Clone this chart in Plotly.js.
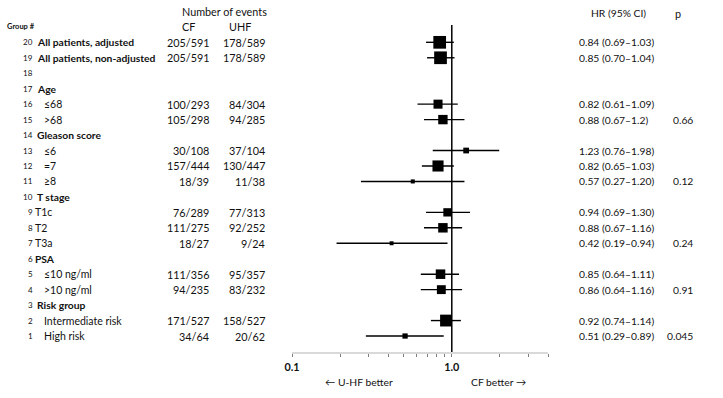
<!DOCTYPE html>
<html>
<head>
<meta charset="utf-8">
<script src="https://cdn.plot.ly/plotly-3.0.1.min.js"></script>
<style>html,body{margin:0;padding:0;background:#fff;}#chart{width:723px;height:398px;}</style>
</head>
<body>
<div id="chart"></div>
<script>
// ---------------- DATA ----------------
const groupNums = [20,19,18,17,16,15,14,13,12,11,10,9,8,7,6,5,4,3,2,1];
const rowLabels = ["All patients, adjusted","All patients, non-adjusted","","Age","≤68",">68",
  "Gleason score","≤6","=7","≥8","T stage","T1c","T2","T3a","PSA","≤10 ng/ml",">10 ng/ml",
  "Risk group","Intermediate risk","High risk"];
const isHeader = [true,true,false,true,false,false,true,false,false,false,true,false,false,false,true,false,false,true,false,false];
const cfEvents = ["205/591","205/591","","","100/293","105/298","","30/108","157/444","18/39","","76/289","111/275","18/27","","111/356","94/235","","171/527","34/64"];
const uhfEvents = ["178/589","178/589","","","84/304","94/285","","37/104","130/447","11/38","","77/313","92/252","9/24","","95/357","83/232","","158/527","20/62"];
const hr = [0.84,0.85,null,null,0.82,0.88,null,1.23,0.82,0.57,null,0.94,0.88,0.42,null,0.85,0.86,null,0.92,0.51];
const ciLow = [0.69,0.70,null,null,0.61,0.67,null,0.76,0.65,0.27,null,0.69,0.67,0.19,null,0.64,0.64,null,0.74,0.29];
const ciHigh = [1.03,1.04,null,null,1.09,1.2,null,1.98,1.03,1.20,null,1.30,1.16,0.94,null,1.11,1.16,null,1.14,0.89];
const hrText = ["0.84 (0.69–1.03)","0.85 (0.70–1.04)","","","0.82 (0.61–1.09)","0.88 (0.67–1.2)","",
  "1.23 (0.76–1.98)","0.82 (0.65–1.03)","0.57 (0.27–1.20)","","0.94 (0.69–1.30)","0.88 (0.67–1.16)",
  "0.42 (0.19–0.94)","","0.85 (0.64–1.11)","0.86 (0.64–1.16)","","0.92 (0.74–1.14)","0.51 (0.29–0.89)"];
const pValues = ["","","","","","0.66","","","","0.12","","","","0.24","","","0.91","","","0.045"];
const tickVals = [0.1,0.2,0.3,0.4,0.5,0.6,0.7,0.8,0.9,1,2,3,4];
const tickLabels = ["0.1","","","","","","","","","1.0","","",""];

// ---------------- LAYOUT CONSTANTS ----------------
const W = 723, H = 398;
const M = {l: 291.5, r: 175, t: 25, b: 45.7};
const PW = W - M.l - M.r, PH = H - M.t - M.b;
const px2x = px => (px - M.l) / PW;
const py2y = py => (H - M.b - py) / PH;
const FONT = "Lato, 'Open Sans', sans-serif";
const TXT = "#111111";
// rows whose label sits right next to the group number
const narrowIndentRows = {9:true, 8:true, 7:true, 6:true};

// marker size from total number of events in the subgroup
function totalEvents(i){
  if(!cfEvents[i]) return 0;
  return parseInt(cfEvents[i].split("/")[0]) + parseInt(uhfEvents[i].split("/")[0]);
}
const mx=[], my=[], ms=[];
const lx=[], ly=[];
groupNums.forEach((g,i)=>{
  if(hr[i]==null) return;
  mx.push(hr[i]); my.push(g); ms.push(0.61*Math.sqrt(totalEvents(i))+0.77);
  lx.push(ciLow[i], ciHigh[i], null); ly.push(g, g, null);
});

const traces = [
  {type:'scatter', mode:'lines', x:lx, y:ly, line:{color:'#000', width:1.4}, hoverinfo:'skip', showlegend:false},
  {type:'scatter', mode:'markers', x:mx, y:my, marker:{symbol:'square', size:ms, color:'#000', opacity:1, line:{width:0}}, showlegend:false}
];

const ann = [];
function A(text, px, py, anchor, size, bold){
  ann.push({text: bold ? '<b>'+text+'</b>' : text, xref:'paper', yref:'paper', x:px2x(px), y:py2y(py),
    xanchor:anchor, yanchor:'middle', showarrow:false, borderpad:0,
    font:{family:FONT, size:size, color:TXT}});
}
function R(text, px, row, anchor, size, bold){
  ann.push({text: bold ? '<b>'+text+'</b>' : text, xref:'paper', yref:'y', x:px2x(px), y:row,
    xanchor:anchor, yanchor:'middle', showarrow:false, borderpad:0,
    font:{family:FONT, size:size, color:TXT}});
}
// headers
A("Number of events", 223.5, 11.5, 'center', 10.8, false);
A("Group #", 4.5, 27, 'left', 7.5, true);
A("CF", 188, 26.5, 'center', 10.8, false);
A("UHF", 239, 26.5, 'center', 10.8, false);
A("HR (95% CI)", 619, 12.5, 'center', 10.3, false);
A("p", 678, 13, 'center', 10.8, false);
// rows
groupNums.forEach((g,i)=>{
  R(String(g), 32.5, g, 'right', 8, false);
  if(rowLabels[i]){
    const xL = narrowIndentRows[g] ? 32.5 : (isHeader[i] ? 35.5 : 42.5);
    R(rowLabels[i], xL, g, 'left', isHeader[i] ? 10.3 : 10.5, isHeader[i]);
  }
  if(cfEvents[i]) R(cfEvents[i], 209.8, g, 'right', 10.8, false);
  if(uhfEvents[i]) R(uhfEvents[i], 265.3, g, 'right', 10.8, false);
  if(hrText[i]) R(hrText[i], 577.8, g, 'left', 10.3, false);
  if(pValues[i]) R(pValues[i], 694.3, g, 'right', 10.3, false);
});
// direction labels
A("← U-HF better", 359, 382.5, 'center', 10.3, false);
A("CF better →", 498, 382.5, 'center', 10.3, false);

const layout = {
  width:W, height:H, margin:M, paper_bgcolor:'#fff', plot_bgcolor:'#fff',
  font:{family:FONT, color:TXT},
  xaxis:{type:'log', range:[-1, Math.log10(4)], showgrid:false, zeroline:false,
    showline:true, linecolor:'#d9d9d9', linewidth:2,
    ticks:'outside', tickcolor:'#7f7f7f', ticklen:3, tickwidth:1,
    tickmode:'array', tickvals:tickVals, ticktext:tickLabels.map(t=>t?'<b>'+t+'</b>':''),
    tickfont:{family:FONT, size:10.8, color:TXT}, ticklabelstandoff:1, fixedrange:true},
  yaxis:{range:[-0.034, 21.12], visible:false, fixedrange:true},
  shapes:[{type:'line', xref:'x', yref:'paper', x0:1, x1:1, y0:0, y1:1, line:{color:'#000', width:1.5}}],
  annotations:ann,
  showlegend:false
};
Plotly.newPlot('chart', traces, layout, {staticPlot:true, displayModeBar:false});
</script>
</body>
</html>
